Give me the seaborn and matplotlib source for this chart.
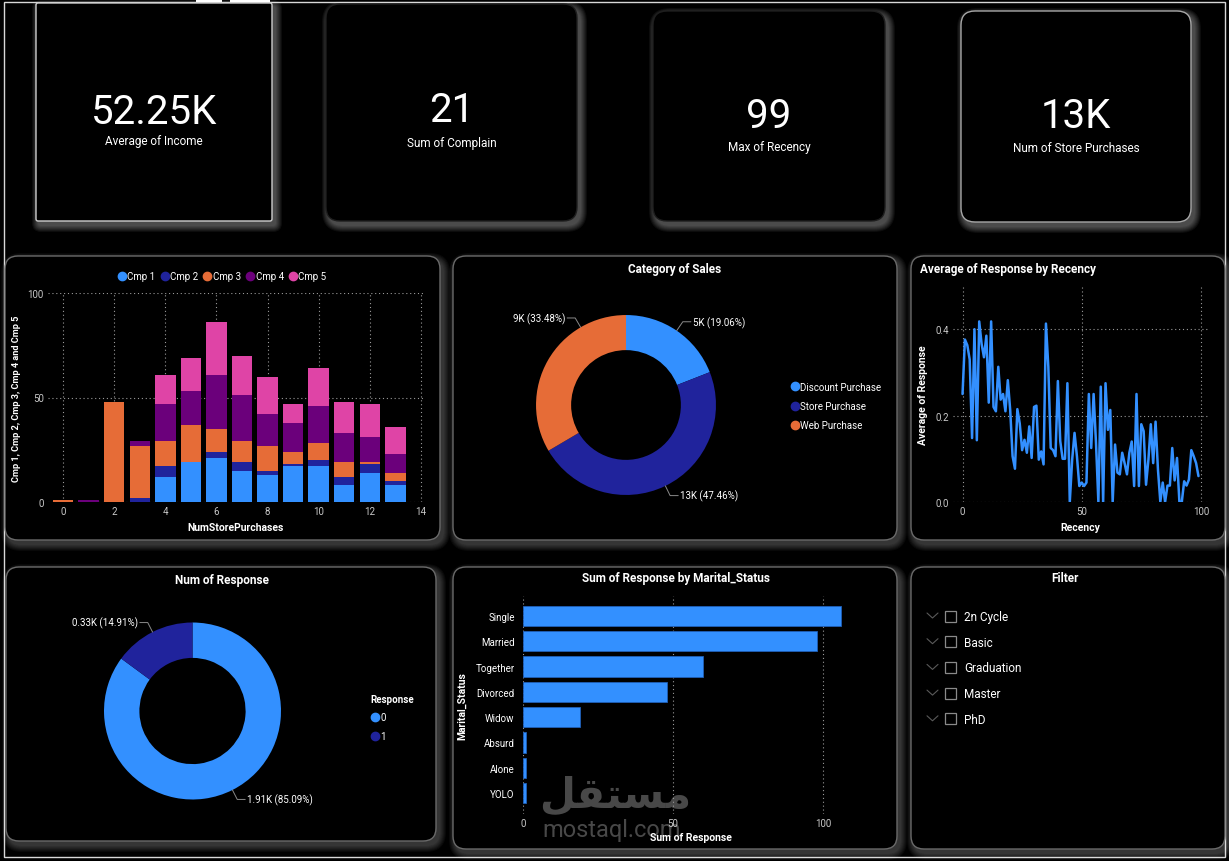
import numpy as np
import pandas as pd
import matplotlib
matplotlib.use("Agg")
import matplotlib.pyplot as plt
import seaborn as sns
from matplotlib.patches import FancyBboxPatch, Rectangle
from matplotlib.lines import Line2D

# ---- data ----
kpi_values = ["52.25K", "21", "99", "13K"]
kpi_labels = ["Average of Income", "Sum of Complain", "Max of Recency", "Num of Store Purchases"]

store_purchases = list(range(14))
cmp1 = [0, 0, 0, 0, 12, 19, 21, 15, 13, 17, 17, 8, 14, 8]
cmp2 = [0, 0, 0, 2, 5, 0, 3, 4, 2, 1, 3, 4, 4, 2]
cmp3 = [1, 0, 48, 25, 12, 18, 11, 10, 12, 6, 8, 7, 1, 4]
cmp4 = [0, 1, 0, 2, 18, 16, 26, 22, 15, 14, 18, 14, 12, 9]
cmp5 = [0, 0, 0, 0, 14, 16, 25, 19, 18, 9, 18, 15, 16, 13]
cmp_names = ["Cmp 1", "Cmp 2", "Cmp 3", "Cmp 4", "Cmp 5"]

sales_cats = ["Discount Purchase", "Store Purchase", "Web Purchase"]
sales_vals = [5208, 12970, 9150]

response_cats = ["0", "1"]
response_vals = [1906, 334]

recency = list(range(100))
avg_response = [0.25, 0.376, 0.363, 0.33, 0.148, 0.40, 0.143, 0.418, 0.366, 0.335,
                0.385, 0.23, 0.418, 0.22, 0.21, 0.313, 0.237, 0.25, 0.21, 0.282,
                0.213, 0.106, 0.077, 0.215, 0.182, 0.12, 0.144, 0.114, 0.175, 0.102,
                0.22, 0.223, 0.098, 0.117, 0.087, 0.413, 0.313, 0.125, 0.12, 0.106,
                0.28, 0.141, 0.10, 0.10, 0.275, 0.0, 0.098, 0.16, 0.106, 0.037,
                0.045, 0.037, 0.045, 0.25, 0.125, 0.25, 0.137, 0.0, 0.267, 0.0,
                0.275, 0.167, 0.213, 0.0, 0.133, 0.068, 0.064, 0.114, 0.09, 0.064,
                0.114, 0.14, 0.037, 0.25, 0.037, 0.18, 0.164, 0.04, 0.098, 0.18,
                0.09, 0.186, 0.075, 0.0, 0.045, 0.0, 0.038, 0.038, 0.125, 0.05,
                0.102, 0.0, 0.0, 0.048, 0.038, 0.052, 0.12, 0.106, 0.09, 0.06]

marital_status = ["Single", "Married", "Together", "Divorced", "Widow", "Absurd", "Alone", "YOLO"]
marital_response = [106, 98, 60, 48, 19, 1, 1, 1]

education = ["2n Cycle", "Basic", "Graduation", "Master", "PhD"]

# ---- style ----
BLUE, NAVY, ORANGE, PURPLE, PINK = "#3390ff", "#20239c", "#e66c37", "#6b007b", "#df44a6"
cmp_colors = [BLUE, NAVY, ORANGE, PURPLE, PINK]
TICK = "#c8c8c8"

sns.set_theme(style="dark")
plt.rcParams["font.family"] = ["Roboto", "DejaVu Sans"]
plt.rcParams["axes.facecolor"] = "none"
plt.rcParams["text.color"] = "white"

W, H = 1229, 862
fig = plt.figure(figsize=(W / 100, H / 100), dpi=100, facecolor="black")

bg = fig.add_axes([0, 0, 1, 1], zorder=0)
bg.set_xlim(0, W)
bg.set_ylim(H, 0)
bg.axis("off")
bg.set_facecolor("black")


def panel(x0, y0, x1, y1, edge="#6a6a6a", r=13, glow=0.035):
    w, h = x1 - x0, y1 - y0
    for d in range(1, 8):
        bg.add_patch(FancyBboxPatch((x0 + 3 - d, y0 + 4 - d), w + 2 * d, h + 2 * d,
                                    boxstyle=f"round,pad=0,rounding_size={r + d}",
                                    facecolor="white", edgecolor="none", alpha=glow))
    bg.add_patch(FancyBboxPatch((x0, y0), w, h, boxstyle=f"round,pad=0,rounding_size={r}",
                                facecolor="black", edgecolor=edge, linewidth=1))


def axes_px(x0, y0, x1, y1):
    return fig.add_axes([x0 / W, 1 - y1 / H, (x1 - x0) / W, (y1 - y0) / H], zorder=2)


def style_axes(ax):
    for s in ax.spines.values():
        s.set_visible(False)
    ax.tick_params(length=0, labelsize=7, labelcolor=TICK, pad=3)
    ax.set_facecolor("none")


# outer frame and selection handles
bg.add_patch(Rectangle((4, 3), 1221, 855, facecolor="none", edgecolor="#d8d8d8", linewidth=1))
bg.add_patch(Rectangle((196, 0), 26, 3, facecolor="white", edgecolor="none"))
bg.add_patch(Rectangle((230, 0), 40, 3, facecolor="white", edgecolor="none"))

# ---- KPI cards ----
cards = [(36, 4, 272, 222, "#cfcfcf", 2), (326, 5, 577, 222, "#1e1e1e", 14),
         (653, 12, 885, 222, "#1e1e1e", 14), (961, 12, 1191, 223, "#a8a8a8", 14)]
kpi_y = [(112, 142), (111, 143), (116, 148), (116, 148)]
for (x0, y0, x1, y1, ec, r), val, lab, (vy, ly) in zip(cards, kpi_values, kpi_labels, kpi_y):
    panel(x0, y0, x1, y1, edge=ec, r=r, glow=0.05)
    cx = (x0 + x1) / 2
    bg.text(cx, vy, val, ha="center", va="center", fontsize=29, color="white")
    bg.text(cx, ly, lab, ha="center", va="center", fontsize=8.5, color="white")

# ---- chart panels ----
panel(5, 257, 440, 541)
panel(453, 257, 897, 541)
panel(911, 257, 1225, 541)
panel(6, 568, 436, 842)
panel(453, 568, 897, 850)
panel(911, 568, 1225, 850)

# ---- stacked campaign bars ----
ax1 = axes_px(48, 294, 423, 503)
cum = np.cumsum(np.array([cmp1, cmp2, cmp3, cmp4, cmp5]), axis=0)
for i in reversed(range(5)):
    sns.barplot(x=store_purchases, y=cum[i], color=cmp_colors[i], native_scale=True,
                width=0.8, saturation=1, linewidth=0, ax=ax1)
style_axes(ax1)
ax1.set_xlim(-0.59, 14.08)
ax1.set_ylim(0, 100)
ax1.set_xticks(range(0, 15, 2))
ax1.set_yticks([0, 50, 100])
ax1.grid(True, color="#9a9a9a", linestyle=(0, (1, 2.5)), linewidth=0.8)
ax1.set_axisbelow(True)
ax1.set_xlabel("NumStorePurchases", fontsize=7.5, color="white", fontweight="bold", labelpad=4)
ax1.set_ylabel("Cmp 1, Cmp 2, Cmp 3, Cmp 4 and Cmp 5", fontsize=6.6, color="white",
               fontweight="bold", labelpad=5)
handles = [Line2D([], [], marker="o", linestyle="none", markersize=6, color=c) for c in cmp_colors]
ax1.legend(handles, cmp_names, loc="center", bbox_to_anchor=(0.464, 1.08), ncol=5,
           frameon=False, fontsize=7, labelcolor="white", handletextpad=0.1,
           columnspacing=0.5, handlelength=0.9)


def donut(ax, vals, colors, labels, width, label_shift):
    wedges, _ = ax.pie(vals, colors=colors, startangle=90, counterclock=False, radius=1,
                       wedgeprops=dict(width=width, edgecolor="none"))
    for w, lab, sh in zip(wedges, labels, label_shift):
        ang = np.deg2rad((w.theta1 + w.theta2) / 2 + sh)
        p0 = np.array([np.cos(ang), np.sin(ang)])
        p1 = p0 * 1.12
        side = 1 if p0[0] >= 0 else -1
        p2 = p1 + np.array([0.09 * side, 0])
        ax.plot([p0[0], p1[0], p2[0]], [p0[1], p1[1], p2[1]], color="#8a8a8a", lw=0.7,
                clip_on=False)
        ax.text(p2[0] + 0.02 * side, p2[1], lab, ha="left" if side > 0 else "right",
                va="center", fontsize=7, color="white", clip_on=False)
    ax.set_xlim(-1.356, 1.356)
    ax.set_ylim(-1.356, 1.356)
    ax.set_aspect("equal")
    ax.axis("off")


# ---- category of sales donut ----
tot = sum(sales_vals)
sales_labels = [f"{v / 1000:.0f}K ({v / tot * 100:.2f}%)" for v in sales_vals]
ax2 = axes_px(626 - 122, 406 - 122, 626 + 122, 406 + 122)
donut(ax2, sales_vals, [BLUE, NAVY, ORANGE], sales_labels, 0.39, [0, 0, -30])
bg.text(675, 270, "Category of Sales", ha="center", va="center", fontsize=8.5,
        fontweight="bold", color="white")
h2 = [Line2D([], [], marker="o", linestyle="none", markersize=6, color=c) for c in [BLUE, NAVY, ORANGE]]
fig.legend(h2, sales_cats, loc="center left", bbox_to_anchor=(782 / W, 1 - 407 / H),
           frameon=False, fontsize=7, labelcolor="white", handletextpad=0.1,
           handlelength=0.9, labelspacing=0.95)

# ---- response by recency line ----
ax3 = axes_px(953, 287, 1208, 503)
sns.lineplot(x=recency, y=avg_response, color=BLUE, linewidth=1.8, ax=ax3)
style_axes(ax3)
ax3.set_xlim(-4, 103)
ax3.set_ylim(0, 0.5)
ax3.set_xticks([0, 50, 100])
ax3.set_yticks([0, 0.2, 0.4])
ax3.set_yticklabels(["0.0", "0.2", "0.4"])
ax3.grid(True, color="#9a9a9a", linestyle=(0, (1, 2.5)), linewidth=0.8)
ax3.set_xlabel("Recency", fontsize=7.5, color="white", fontweight="bold", labelpad=4)
ax3.set_ylabel("Average of Response", fontsize=7.5, color="white", fontweight="bold", labelpad=5)
bg.text(920, 270, "Average of Response by Recency", ha="left", va="center", fontsize=8.5,
        fontweight="bold", color="white")

# ---- num of response donut ----
rtot = sum(response_vals)
resp_labels = [f"{v / 1000:.2f}K ({v / rtot * 100:.2f}%)" for v in response_vals]
ax4 = axes_px(192.5 - 120, 712 - 120, 192.5 + 120, 712 + 120)
donut(ax4, response_vals, [BLUE, NAVY], resp_labels, 0.4, [0, 0])
bg.text(222, 581, "Num of Response", ha="center", va="center", fontsize=8.5,
        fontweight="bold", color="white")
h4 = [Line2D([], [], marker="o", linestyle="none", markersize=6, color=c) for c in [BLUE, NAVY]]
leg4 = fig.legend(h4, response_cats, loc="upper left", bbox_to_anchor=(362 / W, 1 - 686 / H),
                  frameon=False, fontsize=7, labelcolor="white", handletextpad=0.1,
                  handlelength=0.9, labelspacing=0.9, title="Response", alignment="left",
                  title_fontproperties={"weight": "bold", "size": 7})
leg4.get_title().set_color("white")

# ---- response by marital status ----
ax5 = axes_px(523, 597, 859, 815)
mdf = pd.DataFrame({"Marital_Status": marital_status, "Sum of Response": marital_response})
sns.barplot(data=mdf, x="Sum of Response", y="Marital_Status", orient="h", color=BLUE,
            saturation=1, width=0.8, linewidth=0.6, edgecolor="#1f5fb8", ax=ax5)
style_axes(ax5)
ax5.set_xlim(0, 112)
ax5.set_ylim(7.83, -0.79)
ax5.set_xticks([0, 50, 100])
ax5.grid(True, axis="x", color="#9a9a9a", linestyle=(0, (1, 2.5)), linewidth=0.8)
ax5.grid(False, axis="y")
ax5.set_axisbelow(True)
ax5.tick_params(axis="y", labelcolor="white", pad=6)
ax5.set_xlabel("Sum of Response", fontsize=7.5, color="white", fontweight="bold", labelpad=3)
ax5.set_ylabel("Marital_Status", fontsize=7.5, color="white", fontweight="bold", labelpad=6)
bg.text(676, 579, "Sum of Response by Marital_Status", ha="center", va="center",
        fontsize=8.5, fontweight="bold", color="white")

# ---- filter slicer ----
bg.text(1065, 579, "Filter", ha="center", va="center", fontsize=8.5, fontweight="bold",
        color="white")
for i, ed in enumerate(education):
    y = 617 + i * 25.7
    bg.plot([927, 932.5, 938], [y - 3, y + 2, y - 3], color="#5a5a5a", lw=0.8)
    bg.add_patch(Rectangle((945, y - 5.5), 11, 11, facecolor="none", edgecolor="#8a8a8a", lw=0.9))
    bg.text(964, y + 0.5, ed, ha="left", va="center", fontsize=8.5, color="white")

# ---- watermark (sits over the marital chart, as in the screenshot) ----
bg.text(615, 795, "\uFEDE\uFED8\uFE98\uFEB4\uFEE3", ha="center", va="center", fontsize=30,
        fontweight="bold", color="#555555", alpha=0.85, family=["DejaVu Sans"], zorder=5)
bg.text(612, 831, "mostaql.com", ha="center", va="center", fontsize=17, color="#555555",
        alpha=0.85, zorder=5)
ax5.set_zorder(3)

fig.savefig("out.png", dpi=100, facecolor="black")
